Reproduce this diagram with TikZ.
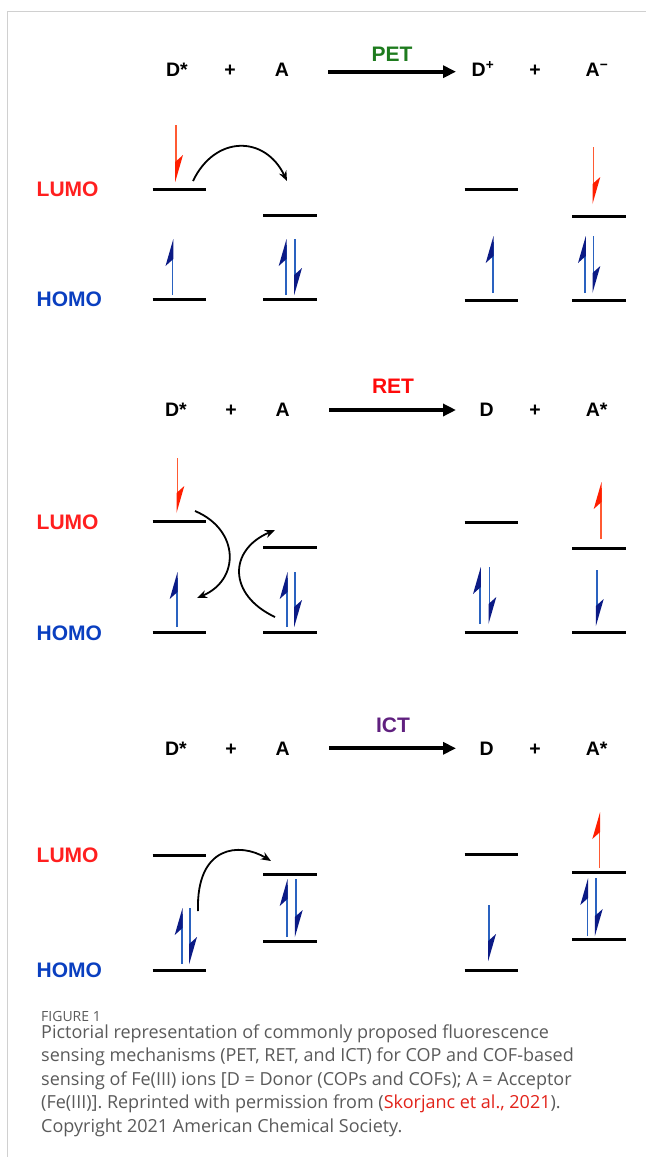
\documentclass[tikz,border=0pt]{standalone}
\usepackage{fontspec}
\setmainfont{Liberation Sans}
\newfontfamily\capfont{Open Sans}
\usetikzlibrary{arrows.meta}
\definecolor{lumored}{HTML}{FF1F1F}
\definecolor{homoblue}{HTML}{0A3FC0}
\definecolor{petgreen}{HTML}{1E7B1E}
\definecolor{retred}{HTML}{FF0A0A}
\definecolor{ictpurple}{HTML}{60207F}
\definecolor{eredline}{HTML}{FF5A33}
\definecolor{eredhead}{HTML}{FF1E00}
\definecolor{eblueline}{HTML}{2A62C0}
\definecolor{ebluehead}{HTML}{0B1A85}
\definecolor{capgray}{HTML}{5A5A5A}
\definecolor{linkred}{HTML}{E2231A}
\definecolor{framegray}{HTML}{D0D0D0}
\newcommand\eUp[5]{%
  \draw[line width=1.6pt,#4] (#1,#2) -- (#1,#3+6);
  \fill[#5] (#1+0.8,#3) -- (#1-7,#3+27) -- (#1+0.8,#3+20) -- cycle;}
\newcommand\eDn[5]{%
  \draw[line width=1.6pt,#4] (#1,#2) -- (#1,#3-6);
  \fill[#5] (#1-0.8,#3) -- (#1+7,#3-27) -- (#1-0.8,#3-20) -- cycle;}
\tikzset{
  lvl/.style={line width=3pt,black},
  eq/.style={anchor=base,font=\bfseries\fontsize{19.5}{22}\selectfont},
  mech/.style={anchor=base,font=\bfseries\fontsize{21}{24}\selectfont},
  orb/.style={anchor=base west,inner sep=0pt,font=\bfseries\fontsize{21}{24}\selectfont},
  rxn/.style={line width=4pt,-{Triangle[length=13pt,width=12pt]}},
  curv/.style={line width=1.8pt,-{Stealth[length=10pt,width=8pt]}},
  capt/.style={anchor=base west,inner sep=0pt,text=capgray,font=\capfont\fontsize{18}{21}\selectfont},
}
\begin{document}
\begin{tikzpicture}[x=1pt,y=-1pt]
\useasboundingbox (0,0) rectangle (646,1157);
% frame
\draw[framegray,line width=1.3pt] (7.5,1157) -- (7.5,11.7) -- (646,11.7);

% ================= PET =================
\node[mech,text=petgreen] (petlab) at (392,61.7) {PET};
\node[eq] (p1) at (177,76.7) {D*};
\node[eq] (p2) at (230,76.7) {+};
\node[eq] (p3) at (282,76.7) {A};
\node[eq] (p4) at (483,76.7) {D\textsuperscript{+}};
\node[eq] (p5) at (535,76.7) {+};
\node[eq] (p6) at (597,76.7) {A\textsuperscript{\char"2212}};
\coordinate (pa1) at (328,71.7);
\coordinate (pa2) at (456,71.7);
\draw[rxn] (pa1) -- (pa2);
\node[orb,text=lumored] (plumo) at (36.5,196.7) {LUMO};
\node[orb,text=homoblue] (phomo) at (36.5,306.5) {HOMO};
\draw[lvl] (152.5,189.3) -- (205.5,189.3);
\draw[lvl] (263,215.7) -- (316.5,215.7);
\draw[lvl] (152.5,299.3) -- (205.5,299.3);
\draw[lvl] (263,299.3) -- (316.5,299.3);
\draw[lvl] (464.5,189.3) -- (518,189.3);
\draw[lvl] (572,216) -- (625.5,216);
\draw[lvl] (464.5,300) -- (518,300);
\draw[lvl] (572,300) -- (625.5,300);
\eDn{176}{125}{182}{eredline}{eredhead}
\eUp{172.5}{295}{239}{eblueline}{ebluehead}
\eUp{285.7}{295}{239}{eblueline}{ebluehead}
\eDn{295}{239}{295}{eblueline}{ebluehead}
\eDn{593.3}{147}{204}{eredline}{eredhead}
\eUp{492.7}{293}{236}{eblueline}{ebluehead}
\eUp{585}{293}{236}{eblueline}{ebluehead}
\eDn{593.3}{236}{293}{eblueline}{ebluehead}
\coordinate (pc1) at (193,181);
\coordinate (pc2) at (287,181);
\draw[curv] (pc1) .. controls (215,135) and (265,135) .. (pc2);

% ================= RET =================
\node[mech,text=retred] (retlab) at (393,393.3) {RET};
\node[eq] (r1) at (176,416) {D*};
\node[eq] (r2) at (231,416) {+};
\node[eq] (r3) at (282.7,416) {A};
\node[eq] (r4) at (486.7,416) {D};
\node[eq] (r5) at (535,416) {+};
\node[eq] (r6) at (596.7,416) {A*};
\coordinate (ra1) at (329,410);
\coordinate (ra2) at (456,410);
\draw[rxn] (ra1) -- (ra2);
\node[orb,text=lumored] (rlumo) at (36.5,529.2) {LUMO};
\node[orb,text=homoblue] (rhomo) at (36.5,640.2) {HOMO};
\draw[lvl] (152.5,521.7) -- (205.5,521.7);
\draw[lvl] (263,547.7) -- (316.5,547.7);
\draw[lvl] (152.5,632.7) -- (205.5,632.7);
\draw[lvl] (263,632.7) -- (316.5,632.7);
\draw[lvl] (464.5,522) -- (518,522);
\draw[lvl] (572,548.3) -- (625.5,548.3);
\draw[lvl] (464.5,632.7) -- (518,632.7);
\draw[lvl] (572,632.7) -- (625.5,632.7);
\eDn{177.3}{458}{513}{eredline}{eredhead}
\eUp{176.7}{627}{572}{eblueline}{ebluehead}
\eUp{286.7}{627}{572}{eblueline}{ebluehead}
\eDn{295}{572}{627}{eblueline}{ebluehead}
\eUp{480}{624}{567}{eblueline}{ebluehead}
\eDn{489.3}{567}{624}{eblueline}{ebluehead}
\eUp{600.7}{539}{482}{eredline}{eredhead}
\eDn{596.7}{570}{626}{eblueline}{ebluehead}
\coordinate (rc1) at (195,511);
\coordinate (rc2) at (197,598);
\draw[curv] (rc1) .. controls (240,530) and (240,580) .. (rc2);
\coordinate (rc3) at (275,617);
\coordinate (rc4) at (275,530);
\draw[curv] (rc3) .. controls (228,595) and (228,550) .. (rc4);

% ================= ICT =================
\node[mech,text=ictpurple] (ictlab) at (393,732.3) {ICT};
\node[eq] (i1) at (176,755) {D*};
\node[eq] (i2) at (231,755) {+};
\node[eq] (i3) at (282.7,755) {A};
\node[eq] (i4) at (486.7,755) {D};
\node[eq] (i5) at (535,755) {+};
\node[eq] (i6) at (596.7,755) {A*};
\coordinate (ia1) at (329,748.3);
\coordinate (ia2) at (456,748.3);
\draw[rxn] (ia1) -- (ia2);
\node[orb,text=lumored] (ilumo) at (36.5,862.5) {LUMO};
\node[orb,text=homoblue] (ihomo) at (36.5,977.5) {HOMO};
\draw[lvl] (152.5,855) -- (205.5,855);
\draw[lvl] (263,874) -- (316.5,874);
\draw[lvl] (263,941.7) -- (316.5,941.7);
\draw[lvl] (152.5,970) -- (205.5,970);
\draw[lvl] (464.5,854.3) -- (518,854.3);
\draw[lvl] (572,872.7) -- (625.5,872.7);
\draw[lvl] (572,939.3) -- (625.5,939.3);
\draw[lvl] (464.5,970) -- (518,970);
\eUp{181.7}{964}{908}{eblueline}{ebluehead}
\eDn{190}{908}{964}{eblueline}{ebluehead}
\eUp{286.7}{937}{879}{eblueline}{ebluehead}
\eDn{295.7}{879}{937}{eblueline}{ebluehead}
\eDn{489}{905}{961}{eblueline}{ebluehead}
\eUp{599.3}{868}{812}{eredline}{eredhead}
\eUp{587.3}{936}{878}{eblueline}{ebluehead}
\eDn{595.7}{878}{936}{eblueline}{ebluehead}
\coordinate (ic1) at (198,911);
\coordinate (ic2) at (271,861);
\draw[curv] (ic1) .. controls (196,845) and (240,842) .. (ic2);

% ================= caption =================
\node[anchor=base west,inner sep=0pt,text=capgray,font=\capfont\fontsize{14}{16}\selectfont] (figlab) at (41,1021) {FIGURE 1};
\node[capt] (c1) at (41,1038) {Pictorial representation of commonly proposed fluorescence};
\node[capt] (c2) at (41,1061.5) {sensing mechanisms (PET, RET, and ICT) for COP and COF-based};
\node[capt] (c3) at (41,1085) {sensing of Fe(III) ions [D = Donor (COPs and COFs); A = Acceptor};
\node[capt] (c4) at (41,1108.5) {(Fe(III)]. Reprinted with permission from (\textcolor{linkred}{Skorjanc et al., 2021}).};
\node[capt] (c5) at (41,1132) {Copyright 2021 American Chemical Society.};
\end{tikzpicture}
\end{document}
